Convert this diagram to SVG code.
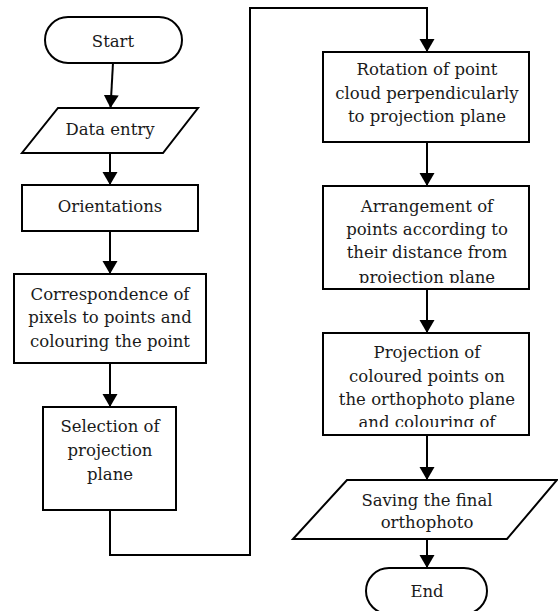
<svg xmlns="http://www.w3.org/2000/svg" width="558" height="611" viewBox="0 0 558 611">
<style>
.s{fill:#fff;stroke:#000;stroke-width:2}
.c{fill:none;stroke:#000;stroke-width:2}
.t{font-family:'DejaVu Serif',serif;font-size:16.5px;fill:#1a1a1a;text-anchor:middle}
</style>
<defs>
<marker id="ah" markerUnits="userSpaceOnUse" markerWidth="14" markerHeight="16" refX="13" refY="7.5" orient="auto">
<path d="M0,0 L13,7.5 L0,15 z" fill="#000"/>
</marker>
<clipPath id="clipA"><rect x="323" y="186" width="206" height="97"/></clipPath>
<clipPath id="clipB"><rect x="323" y="333" width="206" height="94"/></clipPath>
</defs>
<rect width="558" height="611" fill="#fff"/>
<g id="connectors">
<line class="c" x1="113" y1="63" x2="110.5" y2="108" marker-end="url(#ah)"/>
<line class="c" x1="110" y1="153" x2="110" y2="185" marker-end="url(#ah)"/>
<line class="c" x1="110" y1="231" x2="110" y2="274" marker-end="url(#ah)"/>
<line class="c" x1="110" y1="363" x2="110" y2="407" marker-end="url(#ah)"/>
<polyline class="c" points="110,510 110,555 250,555 250,8 427,8 427,52" marker-end="url(#ah)"/>
<line class="c" x1="427" y1="142" x2="427" y2="186" marker-end="url(#ah)"/>
<line class="c" x1="427" y1="289" x2="427" y2="333" marker-end="url(#ah)"/>
<line class="c" x1="427" y1="435" x2="427" y2="480" marker-end="url(#ah)"/>
<line class="c" x1="427" y1="539" x2="427" y2="568" marker-end="url(#ah)"/>
</g>
<g class="t">
<g id="start">
<rect class="s" x="45" y="17" width="137" height="46" rx="23"/>
<text x="113" y="47">Start</text>
</g>
<g id="data-entry">
<polygon class="s" points="58,108 198,108 163,153 22,153"/>
<text x="110" y="135">Data entry</text>
</g>
<g id="orientations">
<rect class="s" x="22" y="185" width="176" height="46"/>
<text x="110" y="212">Orientations</text>
</g>
<g id="correspondence">
<rect class="s" x="14" y="274" width="192" height="89"/>
<text x="110" y="300">Correspondence of</text>
<text x="110" y="323">pixels to points and</text>
<text x="110" y="347">colouring the point</text>
</g>
<g id="selection">
<rect class="s" x="43" y="407" width="133" height="103"/>
<text x="110" y="432">Selection of</text>
<text x="110" y="456">projection</text>
<text x="110" y="480">plane</text>
</g>
<g id="rotation">
<rect class="s" x="323" y="52" width="206" height="90"/>
<text x="427" y="75">Rotation of point</text>
<text x="427" y="99">cloud perpendicularly</text>
<text x="427" y="122">to projection plane</text>
</g>
<g id="arrangement">
<rect class="s" x="323" y="186" width="206" height="103"/>
<g clip-path="url(#clipA)">
<text x="427" y="212">Arrangement of</text>
<text x="427" y="235">points according to</text>
<text x="427" y="258">their distance from</text>
<text x="427" y="283">projection plane</text>
</g>
</g>
<g id="projection">
<rect class="s" x="323" y="333" width="206" height="102"/>
<g clip-path="url(#clipB)">
<text x="427" y="358">Projection of</text>
<text x="427" y="382">coloured points on</text>
<text x="427" y="405">the orthophoto plane</text>
<text x="427" y="428">and colouring of</text>
</g>
</g>
<g id="saving">
<polygon class="s" points="347,480 557,480 507,539 293,539"/>
<text x="427" y="506">Saving the final</text>
<text x="427" y="528">orthophoto</text>
</g>
<g id="end">
<rect class="s" x="366" y="568" width="121" height="46" rx="23"/>
<text x="427" y="597">End</text>
</g>
</g>
</svg>
